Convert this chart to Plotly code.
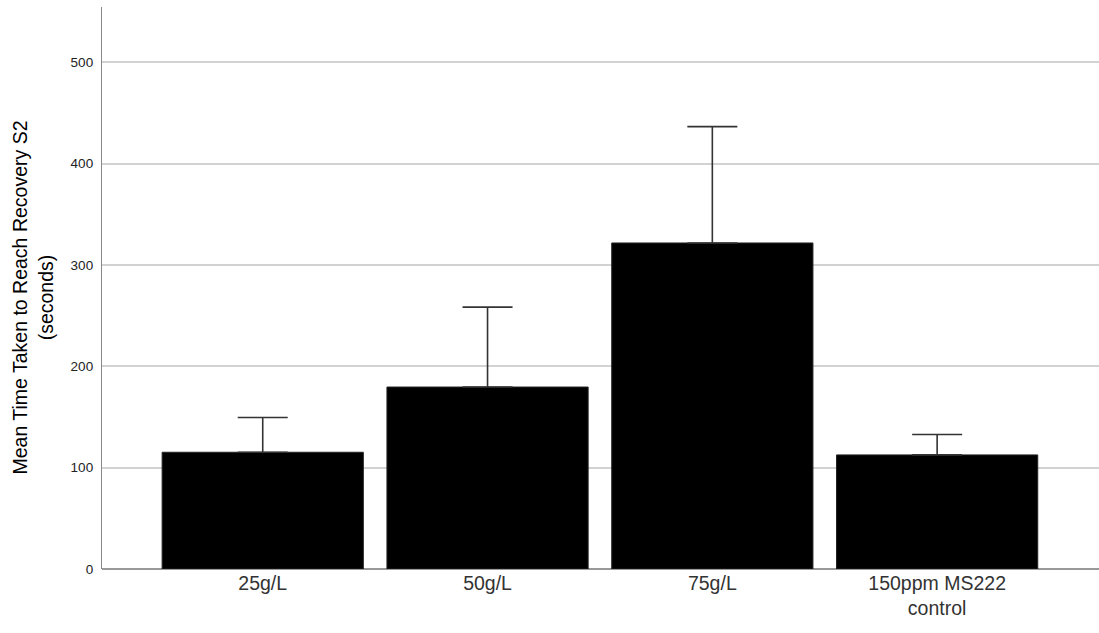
import plotly.graph_objects as go

categories = ["25g/L", "50g/L", "75g/L", "150ppm MS222<br>control"]
means = [115.2, 179.6, 321.8, 112.6]
upper_err = [34.4, 78.9, 114.8, 20.1]
y_ticks = [0, 100, 200, 300, 400, 500]
y_title = "Mean Time Taken to Reach Recovery S2<br>(seconds)"

fig = go.Figure()
fig.add_trace(go.Bar(
    x=categories,
    y=means,
    marker=dict(color="black", line=dict(color="#222222", width=1)),
    error_y=dict(type="data", symmetric=False, array=upper_err,
                 arrayminus=[0] * len(means),
                 color="#333333", thickness=1.6, width=25),
    showlegend=False,
))

fig.update_layout(
    width=1099, height=633,
    margin=dict(l=102, r=0, t=7, b=64),
    paper_bgcolor="white", plot_bgcolor="white",
    bargap=0.105,
    font=dict(family="Liberation Sans, Arial, sans-serif", color="#222222"),
    xaxis=dict(
        range=[-0.715, 3.72],
        showline=False, showgrid=False, ticks="",
        tickfont=dict(size=19.5, color="#333333"),
    ),
    yaxis=dict(
        range=[0, 554.7],
        tickvals=y_ticks,
        showline=True, linecolor="#888888", linewidth=1.3,
        showgrid=True, gridcolor="#d2d2d2", gridwidth=1.5,
        zeroline=True, zerolinecolor="#999999", zerolinewidth=1.5,
        ticks="", ticklen=0, ticklabelstandoff=5,
        tickfont=dict(size=13.5, color="#222222"),
    ),
    annotations=[dict(
        text=y_title, textangle=-90, showarrow=False,
        xref="paper", yref="paper", x=0, y=0.483,
        xanchor="center", yanchor="middle", xshift=-69,
        font=dict(size=19.5, color="#000000"),
    )],
)

fig.write_html("out.html")
